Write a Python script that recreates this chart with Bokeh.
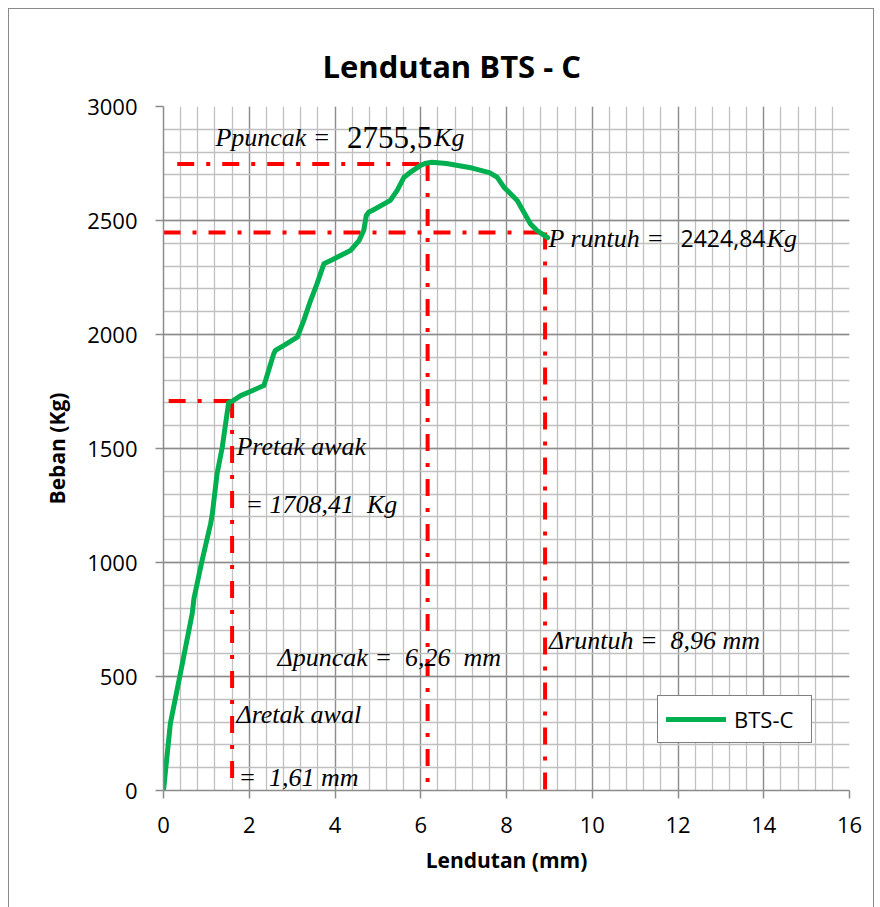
from bokeh.plotting import figure
from bokeh.models import Range1d, FixedTicker, Legend, LegendItem
from bokeh.core.properties import value
from bokeh.embed import file_html
from bokeh.resources import INLINE

# ---- data ----
deflection_mm = [0, 0.16, 0.44, 0.67, 0.71, 0.90, 1.10, 1.14, 1.25, 1.37, 1.52, 1.61,
                 1.80, 2.00, 2.34, 2.38, 2.57, 2.61, 2.81, 3.12, 3.27, 3.43, 3.58, 3.74,
                 3.90, 4.36, 4.56, 4.67, 4.73, 4.79, 4.87, 5.29, 5.45, 5.61, 5.76, 5.99,
                 6.10, 6.26, 6.60, 7.20, 7.60, 7.78, 7.94, 8.25, 8.56, 8.71, 8.96]
load_kg = [0, 294, 557, 776, 842, 1009, 1171, 1215, 1390, 1505, 1702, 1708.41,
           1732, 1748, 1776, 1798, 1915, 1930, 1952, 1988, 2061, 2149, 2222, 2310,
           2325, 2368, 2412, 2456, 2522, 2537, 2544, 2588, 2632, 2690, 2712, 2741,
           2750, 2755.5, 2750, 2730, 2710, 2690, 2646, 2588, 2485, 2456, 2424.84]
series_name = "BTS-C"

x_major = [0, 2, 4, 6, 8, 10, 12, 14, 16]
y_major = [0, 500, 1000, 1500, 2000, 2500, 3000]
x_minor = [round(i * 0.4, 1) for i in range(41)]
y_minor = [i * 100 for i in range(31)]

# reference (guide) lines: crack, peak, collapse
guide_x0 = [0.12, 1.60, 0.32, 6.16, 0.00, 8.90]
guide_x1 = [1.60, 1.60, 6.16, 6.16, 8.93, 8.90]
guide_y0 = [1708, 1708, 2748, 2748, 2447, 2447]
guide_y1 = [1708, 0, 2748, -20, 2447, 0]

NB = "\u00a0"
# annotation texts
serif_texts = ["Ppuncak =" + NB, "Kg", "P runtuh =" + NB, "Kg", "Pretak awak",
               "= 1708,41" + NB + NB + "Kg",
               "\u0394retak awal", "=" + NB + NB + "1,61 mm",
               "\u0394puncak =" + NB + NB + "6,26" + NB + NB + "mm",
               "\u0394runtuh =" + NB + NB + "8,96 mm"]
serif_x = [1.21, 6.31, 8.98, 14.07, 1.70, 1.91, 1.70, 1.75, 2.66, 8.99]
serif_y = [2829, 2829, 2386, 2386, 1474, 1221, 300, 22, 548, 621]

peak_text = ["2755,5"]
peak_x = [4.28]
peak_y = [2829]
collapse_text = ["2424,84"]
collapse_x = [12.06]
collapse_y = [2386]

BASE_SHIFT = 35  # baseline correction in data units

# ---- figure ----
p = figure(width=864, height=898, output_backend="svg", toolbar_location=None,
           x_range=Range1d(0, 16), y_range=Range1d(0, 3000),
           min_border_left=154, min_border_right=24, min_border_top=97, min_border_bottom=117)
p.styles = {"margin-left": "9px", "margin-top": "9px",
            "outline": "1.5px solid #8a8a8a"}

p.title.text = "Lendutan BTS - C"
p.title.text_font = "Open Sans"
p.title.text_font_size = "31px"
p.title.text_font_style = "bold"
p.title.align = "left"
p.title.offset = 159
p.title.standoff = 40
p.title.text_color = "black"

p.outline_line_color = None
p.background_fill_color = "white"
p.border_fill_color = "white"

xt = FixedTicker(ticks=x_major, minor_ticks=x_minor)
yt = FixedTicker(ticks=y_major, minor_ticks=y_minor)
p.xaxis.ticker = xt
p.yaxis.ticker = yt
p.xgrid.ticker = xt
p.ygrid.ticker = yt

for g in (p.xgrid, p.ygrid):
    g.grid_line_color = "#8c8c8c"
    g.grid_line_width = 1.3
    g.minor_grid_line_color = "#c0c0c0"
    g.minor_grid_line_width = 1.3

for ax in (p.xaxis, p.yaxis):
    ax.axis_line_color = "#8c8c8c"
    ax.axis_line_width = 1.5
    ax.major_tick_line_color = "#8c8c8c"
    ax.major_tick_line_width = 1.5
    ax.major_tick_out = 8
    ax.major_tick_in = 0
    ax.minor_tick_out = 0
    ax.minor_tick_in = 0
    ax.major_label_text_font = "Open Sans"
    ax.major_label_text_font_size = "22px"
    ax.major_label_text_color = "black"
    ax.axis_label_text_font = "Open Sans"
    ax.axis_label_text_font_size = "21px"
    ax.axis_label_text_font_style = "bold"
    ax.axis_label_text_color = "black"

p.xaxis.axis_label = "Lendutan (mm)"
p.yaxis.axis_label = "Beban (Kg)"
p.xaxis.major_label_standoff = 18
p.yaxis.major_label_standoff = 18
p.xaxis.axis_label_standoff = 10
p.yaxis.axis_label_standoff = 13

# guide lines
p.segment(x0=guide_x0, y0=guide_y0, x1=guide_x1, y1=guide_y1,
          line_color="#ff0000", line_width=4, line_dash="17 12 4 12")

# data curve
r = p.line(deflection_mm, load_kg, line_color="#00b050", line_width=5,
           line_join="round", line_cap="round")

# annotations
p.text(x=serif_x, y=[v + BASE_SHIFT for v in serif_y], text=serif_texts,
       text_font=value("Liberation Serif"),
       text_font_style="italic", text_font_size="26px", text_color="black",
       text_baseline="alphabetic", text_align="left")
p.text(x=peak_x, y=[v + BASE_SHIFT for v in peak_y], text=peak_text,
       text_font=value("Liberation Serif"),
       text_font_size="31px", text_color="black",
       text_baseline="alphabetic", text_align="left")
p.text(x=collapse_x, y=[v + BASE_SHIFT for v in collapse_y], text=collapse_text,
       text_font=value("Open Sans"),
       text_font_size="23px", text_color="black",
       text_baseline="alphabetic", text_align="left")

legend = Legend(items=[LegendItem(label=series_name, renderers=[r])],
                location=(494, 47))
legend.border_line_color = "black"
legend.border_line_width = 1.5
legend.label_text_font = "Open Sans"
legend.label_text_font_size = "22px"
legend.label_text_color = "black"
legend.glyph_width = 60
legend.glyph_height = 18
legend.label_standoff = 8
legend.label_width = 69
legend.label_height = 18
legend.padding = 8
legend.margin = 0
legend.spacing = 0
legend.background_fill_alpha = 1
p.add_layout(legend, "center")

open("out.html", "w").write(file_html(p, INLINE))
